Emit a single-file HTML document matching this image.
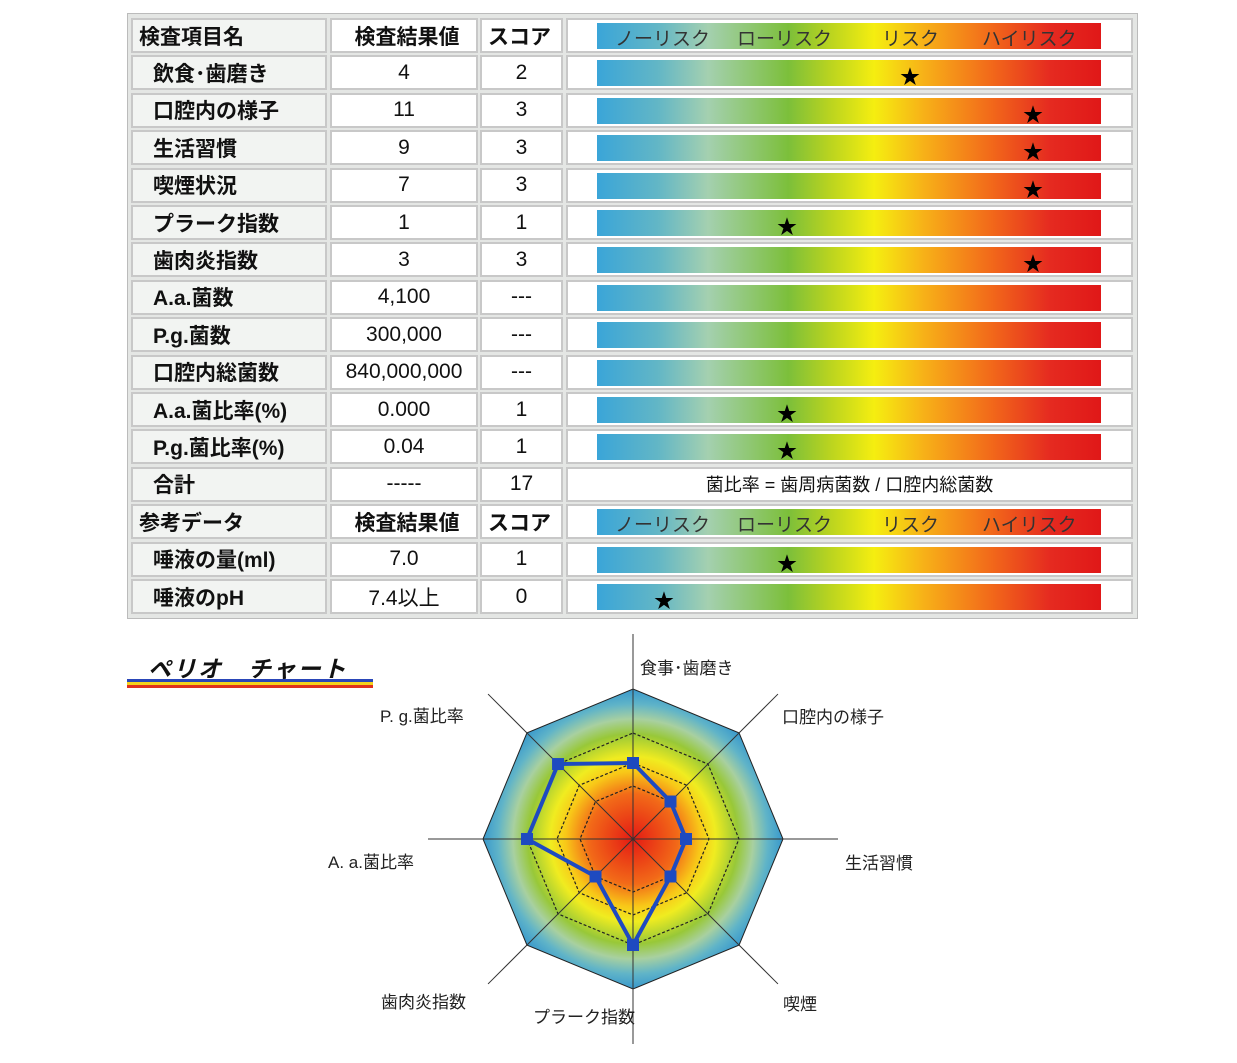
<!DOCTYPE html>
<html><head><meta charset="utf-8">
<style>
body{margin:0;background:#fff;width:1237px;height:1063px;position:relative;overflow:hidden;font-family:"Liberation Sans","Noto Sans CJK JP",sans-serif;}
#tbl{position:absolute;left:127px;top:13px;width:1009px;height:604px;background:#e4e6e4;border:1px solid #bbb;}
.cell{position:absolute;box-sizing:border-box;border:2px solid #c8c8c8;background:#fff;font-size:21px;color:#111;display:flex;align-items:center;}
.name{background:#f2f4f2;padding-left:20px;font-weight:bold;}
.hdr{font-weight:bold;padding-left:6px;}
.c{justify-content:center;}
.bar{position:absolute;height:26px;left:596px;width:504px;background:linear-gradient(90deg,#3aa5d8 0%,#62b6c6 12%,#a4d0b0 22%,#7cbf3a 38%,#b8d320 46%,#f5ee10 55%,#f7b018 65%,#f26a1a 78%,#e52a20 90%,#e01818 100%);}
.star{position:absolute;font-size:20px;color:#000;transform:translate(-50%,-50%);}
.lbl{position:absolute;font-size:17px;color:#222;white-space:nowrap;}
</style></head><body>
<div id="tbl"></div>
<div style="position:absolute;left:148px;top:650px;font-size:23px;font-weight:bold;font-style:italic;color:#111;letter-spacing:2px;">ペリオ　チャート</div>
<div style="position:absolute;left:127px;top:679px;width:246px;height:3px;background:#2a46b8;"></div>
<div style="position:absolute;left:127px;top:682px;width:246px;height:3px;background:#f4d21c;"></div>
<div style="position:absolute;left:127px;top:685px;width:246px;height:3px;background:#e0301c;"></div>
<svg id="radar" width="1237" height="1063" style="position:absolute;left:0;top:0">
<defs><radialGradient id="rg" cx="633" cy="839" r="150" gradientUnits="userSpaceOnUse">
<stop offset="0" stop-color="#e41a14"/><stop offset="0.3" stop-color="#f26a18"/><stop offset="0.45" stop-color="#f8c818"/><stop offset="0.55" stop-color="#f0ec20"/><stop offset="0.7" stop-color="#98c838"/><stop offset="0.8" stop-color="#a8d0a0"/><stop offset="0.9" stop-color="#60b4c8"/><stop offset="1" stop-color="#3898cc"/></radialGradient></defs>
</svg>
<script>
const rowNames=["飲食･歯磨き","口腔内の様子","生活習慣","喫煙状況","プラーク指数","歯肉炎指数","A.a.菌数","P.g.菌数","口腔内総菌数","A.a.菌比率(%)","P.g.菌比率(%)"];
const rowValues=["4","11","9","7","1","3","4,100","300,000","840,000,000","0.000","0.04"];
const rowScores=[2,3,3,3,1,3,null,null,null,1,1];
const refNames=["唾液の量(ml)","唾液のpH"];
const refValues=["7.0","7.4以上"];
const refScores=[1,0];
const riskLabels=["ノーリスク","ローリスク","リスク","ハイリスク"];
const total="17";
const tbl=document.getElementById('tbl');
const rowH=37.4, top0=17;
function starX(s){return 663+123*s;}
function cell(x,w,y,txt,cls,nm){const d=document.createElement('div');d.className='cell '+cls;d.style.left=(x-127)+'px';d.style.width=w+'px';d.style.top=(y-13)+'px';d.style.height='35px';d.textContent=txt;


tbl.appendChild(d);return d;}
function bar(y,score,labels,nm){const b=document.createElement('div');b.className='bar';b.style.left=(596-127)+'px';b.style.top=(y-13+5)+'px';


tbl.appendChild(b);
if(labels){labels.forEach((t,i)=>{const s=document.createElement('span');s.textContent=t;s.style.cssText='position:absolute;top:1px;font-size:19px;color:#333;left:'+[18,140,285,385][i]+'px';


b.appendChild(s);});}
if(score!==null&&score!==undefined){const st=document.createElement('div');st.className='star';st.textContent='★';st.style.left=(starX(score)-127)+'px';st.style.top=(y-13+20)+'px';


tbl.appendChild(st);}}
function rowAt(i){return top0+rowH*i;}
function header(i,a,nm){const y=rowAt(i);cell(130,196,y,a,'name hdr','header-name');cell(329,148,y,'検査結果値','hdr c','header-value');cell(479,83,y,'スコア','hdr','header-score');cell(565,567,y,'','','header-bar');bar(y,null,riskLabels,nm);}
header(0,'検査項目名','risk-scale-header');
rowNames.forEach((n,i)=>{const y=rowAt(i+1);cell(130,196,y,n,'name','item-name');cell(329,148,y,rowValues[i],'c','item-value');cell(479,83,y,rowScores[i]===null?'---':String(rowScores[i]),'c','item-score');cell(565,567,y,'','','item-bar-cell');bar(y,rowScores[i],null,'risk-bar');});
{const y=rowAt(12);cell(130,196,y,'合計','name','total-name');cell(329,148,y,'-----','c','total-value');cell(479,83,y,total,'c','total-score');const d=cell(565,567,y,'菌比率 = 歯周病菌数 / 口腔内総菌数','c','ratio-note');d.style.fontSize='18px';}
header(13,'参考データ','reference-scale-header');
refNames.forEach((n,i)=>{const y=rowAt(14+i);cell(130,196,y,n,'name','ref-name');cell(329,148,y,refValues[i],'c','ref-value');cell(479,83,y,String(refScores[i]),'c','ref-score');cell(565,567,y,'','','ref-bar-cell');bar(y,refScores[i],null,'ref-risk-bar');});

// radar
const axes=["食事･歯磨き","口腔内の様子","生活習慣","喫煙","プラーク指数","歯肉炎指数","A. a.菌比率","P. g.菌比率"];
const scores=[2,3,3,3,1,3,1,1];
const levels=[0,1,2,3];
const ringR=[150,106,76,53];
const cx=633,cy=839,NS='http://www.w3.org/2000/svg';
const svg=document.getElementById('radar');
function rOf(s){return ringR[s];}
function pt(i,r){const a=-Math.PI/2+i*2*Math.PI/axes.length;return [cx+r*Math.cos(a),cy+r*Math.sin(a)];}
function el(t,attrs,nm){const e=document.createElementNS(NS,t);for(const k in attrs)e.setAttribute(k,attrs[k]);


svg.appendChild(e);return e;}
el('polygon',{points:axes.map((_,i)=>pt(i,rOf(0)).join(',')).join(' '),fill:'url(#rg)',stroke:'#222','stroke-width':1},'radar-background');
levels.slice(1).forEach(l=>{el('polygon',{points:axes.map((_,i)=>pt(i,rOf(l)).join(',')).join(' '),fill:'none',stroke:'#222','stroke-width':1.2,'stroke-dasharray':'3,2'},'radar-ring');});
axes.forEach((_,i)=>{const p=pt(i,205);el('line',{x1:cx,y1:cy,x2:p[0],y2:p[1],stroke:'#333','stroke-width':1},'radar-axis');});
el('polygon',{points:scores.map((s,i)=>pt(i,rOf(s)).join(',')).join(' '),fill:'none',stroke:'#1e4ac0','stroke-width':4},'score-polygon');
scores.forEach((s,i)=>{const p=pt(i,rOf(s));el('rect',{x:p[0]-6,y:p[1]-6,width:12,height:12,fill:'#1e4ac0'},'score-marker');});
const lblPos=[[640,654],[782,703],[845,849],[783,990],[533,1003],[381,988],[328,848],[380,702]];
axes.forEach((a,i)=>{const d=document.createElement('div');d.className='lbl';d.style.left=lblPos[i][0]+'px';d.style.top=lblPos[i][1]+'px';d.textContent=a;


document.body.appendChild(d);});
</script>
</body></html>
